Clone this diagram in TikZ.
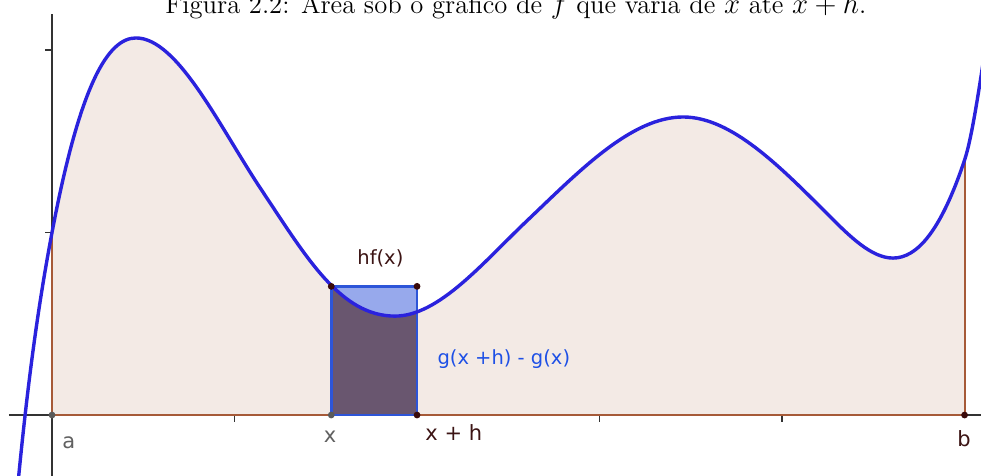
\documentclass[tikz,border=0pt]{standalone}
\usepackage{fontspec}
\newfontfamily\gfont{DejaVu Sans}
\definecolor{curveblue}{HTML}{2A22DD}
\definecolor{areapink}{HTML}{F3EAE5}
\definecolor{edgebrown}{HTML}{A65A38}
\definecolor{axisgray}{HTML}{333333}
\definecolor{rectlight}{HTML}{97A9EC}
\definecolor{rectdark}{HTML}{69566F}
\definecolor{rectedge}{HTML}{2D55D8}
\definecolor{ptdark}{HTML}{3A0A0A}
\definecolor{ptgray}{HTML}{5A5A5A}
\definecolor{lblbrown}{HTML}{3C1414}
\definecolor{lblblue}{HTML}{1E50E6}
\definecolor{lblgray}{HTML}{606060}
\newcommand\curvepath{(-0.2,-0.52) .. controls (-0.1333,0.213) and (-0.0667,0.6467) .. (0,1)
 .. controls (0.1533,1.8127) and (0.3067,2.066) .. (0.46,2.066)
 .. controls (0.69,2.066) and (0.92,1.575) .. (1.15,1.23)
 .. controls (1.393,0.8655) and (1.58,0.542) .. (1.879,0.542)
 .. controls (2.119,0.542) and (2.36,0.8337) .. (2.6,1.062)
 .. controls (2.886,1.3337) and (3.172,1.633) .. (3.458,1.633)
 .. controls (3.722,1.633) and (3.986,1.364) .. (4.25,1.10)
 .. controls (4.369,0.9807) and (4.489,0.86) .. (4.608,0.86)
 .. controls (4.739,0.86) and (4.869,1.005) .. (5.0,1.397)
 .. controls (5.04,1.517) and (5.08,1.79) .. (5.12,2.05)}
\tikzset{
 areafill/.style={fill=areapink},
 axisline/.style={draw=axisgray, line width=0.9pt},
 tickline/.style={draw=axisgray, line width=0.8pt},
 brownedge/.style={draw=edgebrown, line width=1pt},
 curveline/.style={draw=curveblue, line width=1.7pt, line join=round},
 rectborder/.style={draw=rectedge, line width=1.4pt, line join=miter},
 ptd/.style={fill=ptdark},
 ptg/.style={fill=ptgray},
 gglabel/.style={font=\gfont\fontsize{9.75}{11}\selectfont, inner sep=0pt},
 axlabel/.style={font=\gfont\fontsize{10.5}{12}\selectfont, inner sep=0pt},
}
\begin{document}
\begin{tikzpicture}[x=91.25pt,y=91.25pt]
\useasboundingbox (-0.285,-0.334) rectangle (5.090,2.274);
\clip (-0.285,-0.334) rectangle (5.090,2.274);
\coordinate (A) at (0,0);
\coordinate (FA) at (0,1);
\coordinate (B) at (5,0);
\coordinate (FB) at (5,1.397);
\coordinate (X) at (1.53,0);
\coordinate (XH) at (2,0);
\coordinate (TL) at (1.53,0.705);
\coordinate (TR) at (2,0.705);
\coordinate (xaxL) at (-0.236,0);
\coordinate (xaxR) at (5.2,0);
\coordinate (yaxB) at (0,-0.4);
\coordinate (yaxT) at (0,2.197);
% area under curve from a to b
\begin{scope}
 \clip (0,0) rectangle (5,2.3);
 \fill[areafill] \curvepath -- (5.12,0) -- (-0.2,0) -- cycle;
\end{scope}
% axes
\draw[axisline] (xaxL) -- (xaxR);
\draw[axisline] (yaxB) -- (yaxT);
\foreach \t in {1,3,4} {
 \coordinate (xt\t) at (\t,0);
 \draw[tickline] (xt\t) -- ++(0,-0.038);
}
\foreach \t in {1,2} {
 \coordinate (yt\t) at (0,\t);
 \draw[tickline] (yt\t) -- ++(-0.038,0);
}
% brown borders of the area
\draw[brownedge] (A) -- (B);
\draw[brownedge] (A) -- (FA);
\draw[brownedge] (B) -- (FB);
% rectangle h f(x)
\fill[rectlight] (X) rectangle (TR);
\begin{scope}
 \clip (X) rectangle (2,1);
 \fill[rectdark] \curvepath -- (5.12,0) -- (-0.2,0) -- cycle;
\end{scope}
\draw[rectborder] (X) -- (TL) -- (TR) -- (XH) -- cycle;
% the curve
\draw[curveline] \curvepath;
% points
\fill[ptg] (A) circle (1.7pt);
\fill[ptg] (X) circle (1.7pt);
\fill[ptd] (XH) circle (1.7pt);
\fill[ptd] (B) circle (1.7pt);
\fill[ptd] (TL) circle (1.7pt);
\fill[ptd] (TR) circle (1.7pt);
% labels
\node[axlabel, text=lblgray, anchor=base west] (la) at (0.055,-0.181) {a};
\node[axlabel, text=lblgray, anchor=base] (lx) at (1.523,-0.153) {x};
\node[axlabel, text=lblbrown, anchor=base west] (lxh) at (2.044,-0.137) {x + h};
\node[axlabel, text=lblbrown, anchor=base west] (lb) at (4.959,-0.175) {b};
\node[gglabel, text=lblbrown, anchor=base west] (lhf) at (1.671,0.825) {hf(x)};
\node[gglabel, text=lblblue, anchor=base west] (lg) at (2.110,0.279) {g(x +h) - g(x)};
% caption (cut at the top)
\node[anchor=base west, inner sep=0pt, font=\fontsize{13.3}{16}\selectfont] (caption) at (0.619,2.2027) {Figura 2.2: Área sob o gráfico de $f$ que varia de $x$ até $x + h$.};
\end{tikzpicture}
\end{document}
